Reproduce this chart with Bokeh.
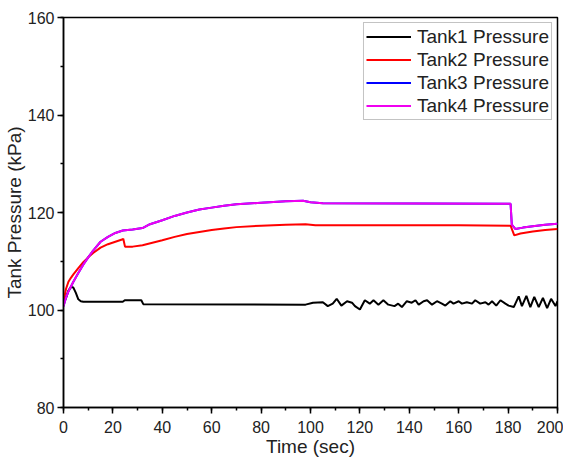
from bokeh.plotting import figure
from bokeh.models import Legend, LegendItem, FixedTicker
from bokeh.embed import file_html
from bokeh.resources import INLINE

# ---- data ----
t1_time = [0, 1, 2, 3, 4, 5, 6, 7, 8, 10, 24, 24.8, 31.5, 32.3, 98, 101, 105, 107, 109, 110.6,
           112.5, 114.8, 116.8, 118, 120, 122, 124, 125.5, 127.5, 129.5, 131.5, 134, 135.5, 137,
           139, 141, 142.5, 143.8, 145.8, 147.2, 149.2, 151.2, 153.2, 154.6, 156.6, 157.9, 160,
           161.3, 163.3, 165.4, 166.7, 168.7, 170.8, 172.1, 173.5, 175.2, 176.9, 178.9, 180.2,
           182.3, 184.3, 185.6, 187.4, 189, 190.6, 192.4, 194.1, 195.8, 197.4, 199.2, 200]
t1_vals = [101.3, 102.5, 104.0, 104.7, 104.6, 103.5, 102.2, 101.8, 101.7, 101.7, 101.7, 102.0,
           102.0, 101.2, 101.1, 101.5, 101.6, 100.8, 101.3, 102.3, 100.9, 101.8, 101.5, 100.8,
           100.1, 102.0, 101.3, 102.0, 101.1, 102.0, 101.1, 100.8, 101.3, 100.6, 101.8, 101.5,
           102.0, 101.1, 101.8, 102.0, 101.1, 101.8, 101.3, 100.9, 101.8, 101.3, 101.8, 101.3,
           101.6, 101.3, 102.0, 101.3, 101.6, 101.1, 101.8, 100.9, 102.0, 101.3, 100.9, 100.6,
           102.8, 100.8, 102.9, 100.6, 102.7, 100.6, 102.5, 100.4, 102.3, 100.8, 101.8]

t2_time = [0, 0.5, 1, 2, 3, 4, 6, 8, 10, 12, 15, 18, 21, 24, 24.2, 24.9, 28, 32, 36, 40, 45, 50,
           55, 60, 65, 70, 80, 90, 98, 102, 120, 140, 160, 181, 182.5, 185, 190, 195, 200]
t2_vals = [100.8, 103.0, 104.3, 105.8, 106.6, 107.3, 108.6, 109.8, 110.8, 111.7, 112.8, 113.5,
           114.0, 114.5, 114.6, 113.0, 113.0, 113.3, 113.8, 114.3, 115.0, 115.6, 116.0, 116.4,
           116.7, 117.0, 117.3, 117.5, 117.6, 117.4, 117.4, 117.4, 117.4, 117.3, 115.3, 115.7,
           116.1, 116.4, 116.6]

t3_time = [0, 1, 2, 4, 6, 8, 10, 12, 15, 18, 21, 24, 28, 32, 35, 40, 45, 50, 55, 60, 65, 70, 80,
           90, 97, 100, 105, 181, 181.5, 183, 186, 190, 195, 200]
t3_vals = [100.8, 102.5, 103.8, 105.8, 107.6, 109.3, 110.8, 112.2, 114.0, 115.0, 115.8, 116.3,
           116.5, 116.8, 117.6, 118.4, 119.3, 120.0, 120.6, 121.0, 121.4, 121.7, 122.0, 122.3,
           122.4, 122.1, 121.9, 121.8, 117.5, 116.6, 116.9, 117.2, 117.5, 117.7]

t4_time = [0, 1, 2, 4, 6, 8, 10, 12, 15, 18, 21, 24, 28, 32, 35, 40, 45, 50, 55, 60, 65, 70, 80,
           90, 97, 100, 105, 181, 181.5, 183, 186, 190, 195, 200]
t4_vals = [100.8, 102.5, 103.8, 105.8, 107.6, 109.3, 110.8, 112.2, 114.0, 115.0, 115.8, 116.3,
           116.5, 116.8, 117.6, 118.4, 119.3, 120.0, 120.6, 121.0, 121.4, 121.7, 122.0, 122.3,
           122.4, 122.1, 121.9, 121.8, 117.5, 116.6, 116.9, 117.2, 117.5, 117.7]

labels = ["Tank1 Pressure", "Tank2 Pressure", "Tank3 Pressure", "Tank4 Pressure"]
colors = ["#000000", "#ff0000", "#0000ff", "#f000f0"]
x_ticks = list(range(0, 201, 20))
y_ticks = [80, 100, 120, 140, 160]

FONT = "Liberation Sans"

p = figure(width=563, height=462, x_range=(0, 200), y_range=(80, 160),
           output_backend="svg", toolbar_location=None,
           min_border_left=60, min_border_right=6, min_border_top=17, min_border_bottom=55)
p.background_fill_color = "white"
p.border_fill_color = "white"
p.xgrid.visible = False
p.ygrid.visible = False
p.outline_line_color = "black"
p.outline_line_width = 1.5

series = [(t1_time, t1_vals), (t2_time, t2_vals), (t3_time, t3_vals), (t4_time, t4_vals)]
renderers = []
for (tx, ty), c in zip(series, colors):
    r = p.line(tx, ty, line_color=c, line_width=2)
    renderers.append(r)

p.xaxis.ticker = FixedTicker(ticks=x_ticks, minor_ticks=list(range(0, 201, 10)))
p.yaxis.ticker = FixedTicker(ticks=y_ticks, minor_ticks=list(range(80, 161, 10)))

for ax in (p.xaxis[0], p.yaxis[0]):
    ax.axis_line_width = 1.5
    ax.axis_line_color = "black"
    ax.major_tick_out = 6
    ax.major_tick_in = 0
    ax.minor_tick_out = 3
    ax.minor_tick_in = 0
    ax.major_tick_line_width = 1.5
    ax.minor_tick_line_width = 1.5
    ax.major_label_text_font = FONT
    ax.major_label_text_font_size = "16px"
    ax.major_label_text_color = "#222222"
    ax.axis_label_text_font = FONT
    ax.axis_label_text_font_size = "19px"
    ax.axis_label_text_font_style = "normal"
    ax.axis_label_text_color = "#222222"

p.xaxis.axis_label = "Time (sec)"
p.yaxis.axis_label = "Tank Pressure (kPa)"
p.yaxis.major_label_standoff = 3
p.yaxis.axis_label_standoff = 0
p.xaxis.major_label_standoff = 7
p.xaxis.axis_label_standoff = 0

legend = Legend(items=[LegendItem(label=l, renderers=[r]) for l, r in zip(labels, renderers)],
                location="top_right")
legend.margin = 5
legend.padding = 2
legend.spacing = 0
legend.label_height = 23
legend.glyph_height = 23
legend.glyph_width = 45
legend.label_standoff = 6
legend.label_text_font = FONT
legend.label_text_font_size = "19px"
legend.label_text_color = "#222222"
legend.border_line_color = "#888888"
legend.border_line_width = 1
legend.background_fill_alpha = 1.0
p.add_layout(legend, "center")

open("out.html", "w").write(file_html(p, INLINE))
